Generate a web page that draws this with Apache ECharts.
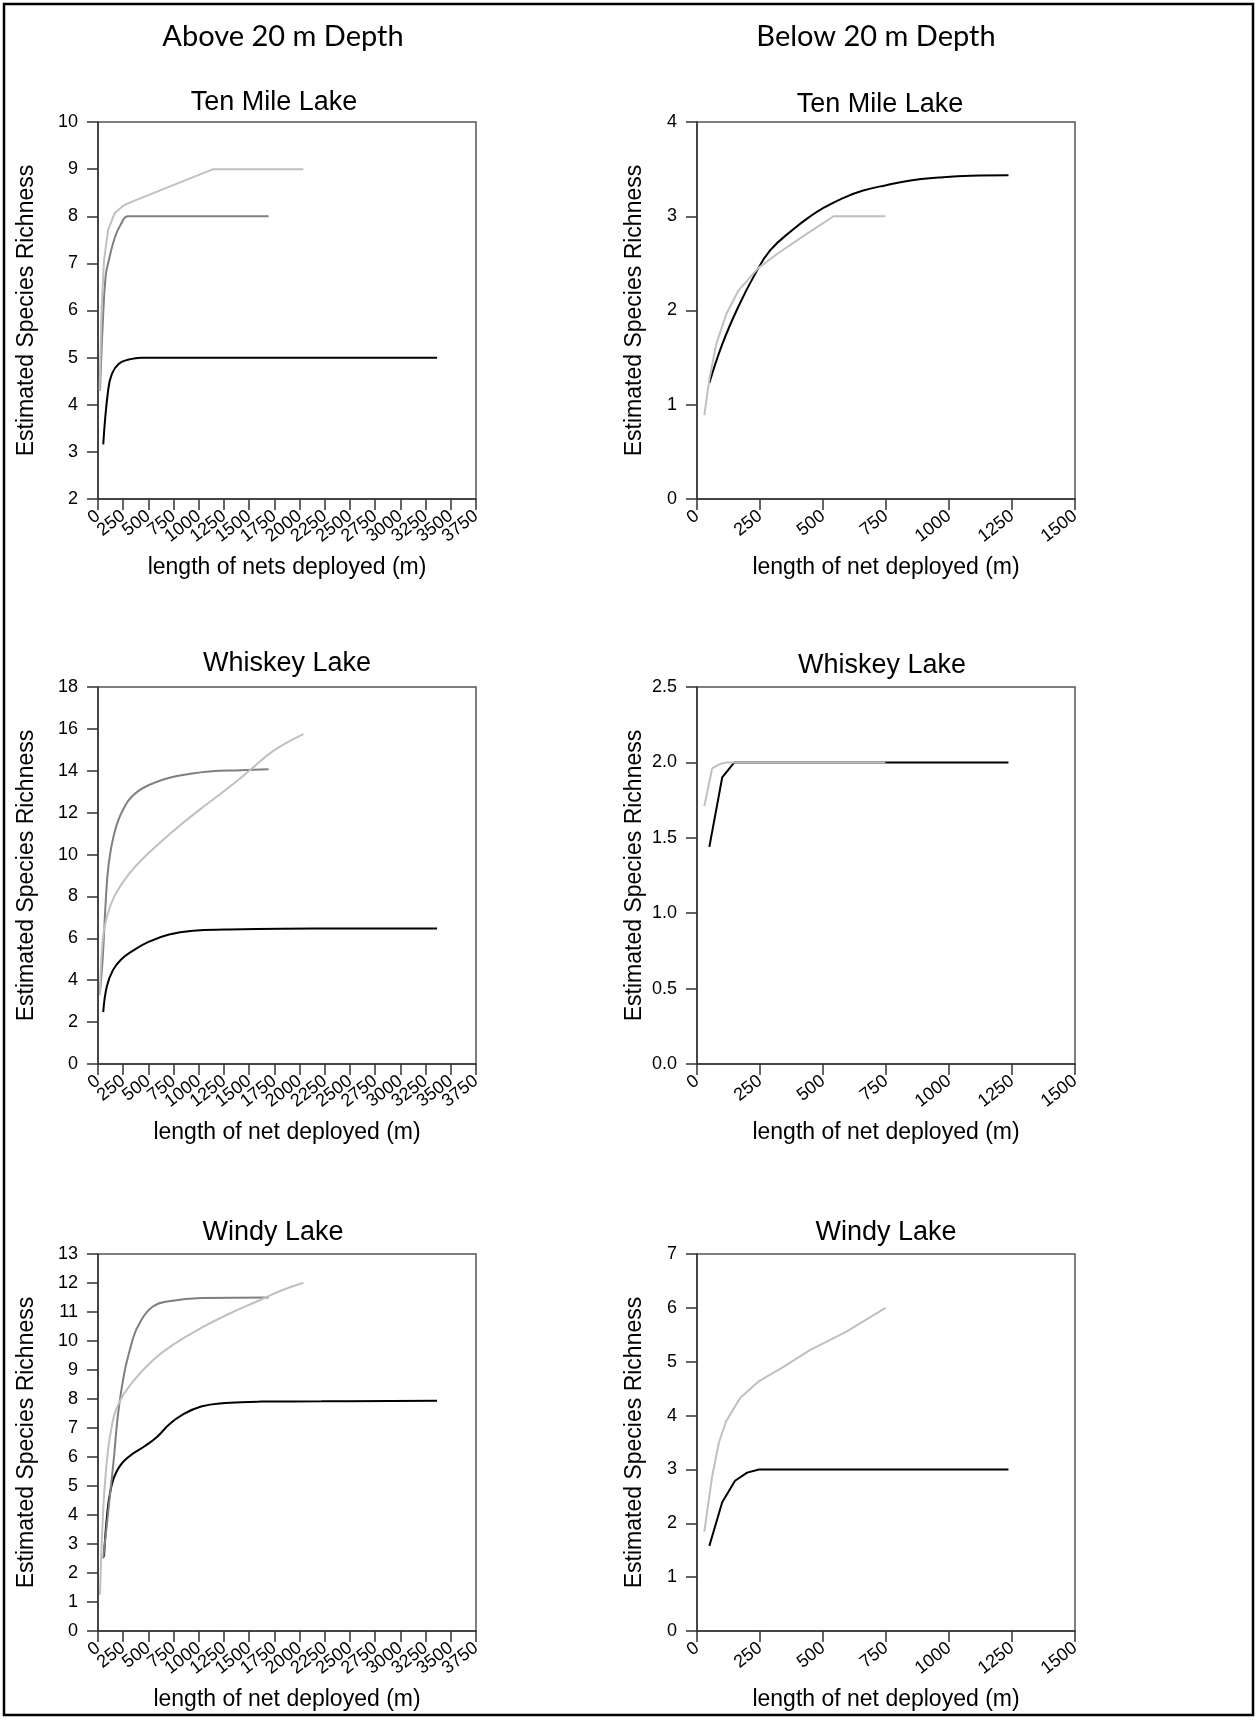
<!DOCTYPE html>
<html>
<head>
<meta charset="utf-8">
<title>Estimated Species Richness vs. Net Length</title>
<script src="https://cdn.jsdelivr.net/npm/echarts@6/dist/echarts.min.js"></script>
<style>
  html, body { margin: 0; padding: 0; background: #ffffff; }
  #chart { width: 1257px; height: 1721px; }
</style>
</head>
<body>
<div id="chart"></div>
<script>
// ---- Rarefaction curves: [net length (m), estimated species richness] ----

// Ten Mile Lake, above 20 m
const tenMileAboveBlack = [[52, 3.16], [100, 4.30], [139, 4.66], [207, 4.87], [306, 4.96], [426, 5.0], [800, 5.0], [1600, 5.0], [2500, 5.0], [3364, 5.0]];
const tenMileAboveDark  = [[20, 4.3], [48, 5.76], [76, 6.73], [107, 7.06], [167, 7.55], [227, 7.83], [299, 8.0], [800, 8.0], [1692, 8.0]];
const tenMileAboveLight = [[16, 4.3], [36, 6.08], [60, 7.06], [100, 7.71], [167, 8.07], [247, 8.22], [326, 8.30], [1143, 9.0], [2038, 9.0]];

// Ten Mile Lake, below 20 m
const tenMileBelowBlack = [[49, 1.23], [100, 1.64], [164, 2.04], [227, 2.37], [291, 2.64], [386, 2.87], [450, 3.00], [497, 3.08], [577, 3.19], [656, 3.27], [751, 3.33], [847, 3.38], [958, 3.41], [1085, 3.43], [1236, 3.435]];
const tenMileBelowLight = [[29, 0.89], [49, 1.27], [76, 1.64], [116, 1.96], [164, 2.21], [243, 2.45], [323, 2.61], [434, 2.81], [542, 3.0], [748, 3.0]];

// Whiskey Lake, above 20 m
const whiskeyAboveBlack = [[52, 2.48], [88, 3.71], [147, 4.47], [227, 4.98], [346, 5.41], [506, 5.84], [705, 6.18], [943, 6.36], [1262, 6.42], [1819, 6.46], [3364, 6.47]];
const whiskeyAboveDark  = [[20, 3.45], [48, 5.15], [76, 7.71], [107, 9.58], [167, 11.11], [247, 12.13], [366, 12.9], [545, 13.4], [784, 13.75], [1103, 13.97], [1421, 14.03], [1692, 14.07]];
const whiskeyAboveLight = [[20, 3.28], [48, 6.0], [88, 7.03], [167, 8.05], [306, 9.07], [506, 10.09], [744, 11.11], [983, 12.05], [1262, 13.07], [1501, 14.0], [1740, 14.95], [2038, 15.75]];

// Whiskey Lake, below 20 m
const whiskeyBelowBlack = [[49, 1.44], [100, 1.90], [148, 2.0], [1236, 2.0]];
const whiskeyBelowLight = [[29, 1.71], [60, 1.96], [92, 1.99], [116, 2.0], [748, 2.0]];

// Windy Lake, above 20 m
const windyAboveBlack = [[60, 2.56], [88, 3.92], [127, 4.9], [187, 5.52], [306, 6.01], [466, 6.38], [585, 6.69], [705, 7.12], [824, 7.43], [1023, 7.74], [1262, 7.86], [1620, 7.91], [2217, 7.92], [3364, 7.94]];
const windyAboveDark  = [[52, 2.5], [147, 5.6], [227, 8.2], [346, 10.08], [426, 10.70], [545, 11.19], [705, 11.37], [1023, 11.48], [1692, 11.5]];
const windyAboveLight = [[20, 1.25], [48, 3.92], [76, 5.40], [127, 6.88], [207, 7.86], [346, 8.60], [545, 9.34], [784, 9.96], [1023, 10.45], [1302, 10.94], [1581, 11.37], [1819, 11.74], [2038, 12.01]];

// Windy Lake, below 20 m
const windyBelowBlack = [[49, 1.58], [100, 2.39], [151, 2.79], [199, 2.94], [246, 3.0], [1236, 3.0]];
const windyBelowLight = [[29, 1.84], [60, 2.87], [87, 3.5], [116, 3.9], [172, 4.33], [243, 4.63], [338, 4.89], [450, 5.22], [593, 5.56], [748, 6.0]];

// Axis ranges [min, max, interval]
const xRangeAbove = [0, 3750, 250];
const xRangeBelow = [0, 1500, 250];
const yTenMileAbove = [2, 10, 1];
const yTenMileBelow = [0, 4, 1];
const yWhiskeyAbove = [0, 18, 2];
const yWhiskeyBelow = [0, 2.5, 0.5];
const yWindyAbove = [0, 13, 1];
const yWindyBelow = [0, 7, 1];

// x tick labels (every tick is labelled, even where they crowd)
const xTicksAbove = ['0', '250', '500', '750', '1000', '1250', '1500', '1750', '2000', '2250', '2500', '2750', '3000', '3250', '3500', '3750'];
const xTicksBelow = ['0', '250', '500', '750', '1000', '1250', '1500'];

// Text
const columnHeaders = ['Above 20 m Depth', 'Below 20 m Depth'];
const lakeNames = ['Ten Mile Lake', 'Whiskey Lake', 'Windy Lake'];
const yAxisTitle = 'Estimated Species Richness';
const xAxisTitleFirst = 'length of nets deployed (m)';
const xAxisTitle = 'length of net deployed (m)';

// ---- Layout ----
const COL_LEFT = [98, 697];
const ROW_TOP = [122, 687, 1254];
const GRID_W = 378, GRID_H = 377;
const COLORS = { black: '#000000', dark: '#7f7f7f', light: '#c0c0c0' };
const TXT = '#000000';
const SANS = '"Liberation Sans", Arial, sans-serif';

const panels = [
  { row: 0, col: 0, x: xRangeAbove, ticks: xTicksAbove, y: yTenMileAbove, xName: xAxisTitleFirst,
    lines: [[tenMileAboveBlack, 'black', true], [tenMileAboveDark, 'dark', true], [tenMileAboveLight, 'light', false]] },
  { row: 0, col: 1, x: xRangeBelow, ticks: xTicksBelow, y: yTenMileBelow, xName: xAxisTitle,
    lines: [[tenMileBelowBlack, 'black', true], [tenMileBelowLight, 'light', false]] },
  { row: 1, col: 0, x: xRangeAbove, ticks: xTicksAbove, y: yWhiskeyAbove, xName: xAxisTitle,
    lines: [[whiskeyAboveBlack, 'black', true], [whiskeyAboveDark, 'dark', true], [whiskeyAboveLight, 'light', true]] },
  { row: 1, col: 1, x: xRangeBelow, ticks: xTicksBelow, y: yWhiskeyBelow, xName: xAxisTitle, decimals: 1,
    lines: [[whiskeyBelowBlack, 'black', false], [whiskeyBelowLight, 'light', false]] },
  { row: 2, col: 0, x: xRangeAbove, ticks: xTicksAbove, y: yWindyAbove, xName: xAxisTitle,
    lines: [[windyAboveBlack, 'black', true], [windyAboveDark, 'dark', true], [windyAboveLight, 'light', true]] },
  { row: 2, col: 1, x: xRangeBelow, ticks: xTicksBelow, y: yWindyBelow, xName: xAxisTitle,
    lines: [[windyBelowBlack, 'black', false], [windyBelowLight, 'light', false]] }
];

// title centres per panel (x, y)
const titlePos = [[274, 103], [880, 105], [287, 664], [882, 666], [273, 1233], [886, 1233]];

const grid = [], xAxis = [], yAxis = [], series = [];
const labelAxes = [];
panels.forEach((p, i) => {
  grid.push({
    left: COL_LEFT[p.col], top: ROW_TOP[p.row], width: GRID_W, height: GRID_H,
    show: true, borderColor: '#555555', borderWidth: 1.5, backgroundColor: 'transparent'
  });
  // numeric axis: scale, line, ticks and title
  xAxis.push({
    type: 'value', gridIndex: i, min: p.x[0], max: p.x[1], interval: p.x[2],
    name: p.xName, nameLocation: 'middle', nameGap: 57,
    nameTextStyle: { fontFamily: SANS, fontSize: 23, color: TXT },
    axisLine: { show: true, onZero: false, lineStyle: { color: '#333333', width: 1.5 } },
    axisTick: { show: true, inside: false, length: 11, lineStyle: { color: '#333333', width: 1.5 } },
    axisLabel: { show: false },
    splitLine: { show: false }
  });
  // companion category axis on the same grid, used only to print every tick label
  labelAxes.push({
    type: 'category', gridIndex: i, position: 'bottom', boundaryGap: false, data: p.ticks,
    axisLine: { show: false, onZero: false }, axisTick: { show: false }, splitLine: { show: false },
    axisLabel: { interval: 0, rotate: 38, margin: 15, fontFamily: SANS, fontSize: 18, color: TXT }
  });
  yAxis.push({
    type: 'value', gridIndex: i, min: p.y[0], max: p.y[1], interval: p.y[2],
    name: yAxisTitle, nameLocation: 'middle', nameRotate: 90, nameGap: p.col === 0 ? 60 : 51,
    nameTextStyle: { fontFamily: SANS, fontSize: 23, color: TXT },
    axisLine: { show: true, onZero: false, lineStyle: { color: '#333333', width: 1.5 } },
    axisTick: { show: true, inside: false, length: 11, lineStyle: { color: '#333333', width: 1.5 } },
    axisLabel: {
      margin: 20, fontFamily: SANS, fontSize: 18, color: TXT,
      showMinLabel: true, showMaxLabel: true,
      formatter: p.decimals ? (v => v.toFixed(p.decimals)) : (v => String(v))
    },
    splitLine: { show: false }
  });
  p.lines.forEach(([data, tone, smooth]) => {
    series.push({
      type: 'line', xAxisIndex: i, yAxisIndex: i, data: data,
      showSymbol: false, symbol: 'none', smooth: smooth ? 0.45 : false,
      lineStyle: { color: COLORS[tone], width: 2 }, silent: true, animation: false
    });
  });
});
xAxis.push(...labelAxes);

const graphic = [
  { type: 'rect', shape: { x: 4, y: 4, width: 1249, height: 1711 },
    style: { fill: 'none', stroke: '#000000', lineWidth: 2.5 }, silent: true },
  { type: 'text', x: 283, y: 37, style: { text: columnHeaders[0], fontFamily: 'Lato, "Open Sans", sans-serif', fontSize: 29, fill: TXT, align: 'center', verticalAlign: 'middle' } },
  { type: 'text', x: 876, y: 37, style: { text: columnHeaders[1], fontFamily: 'Lato, "Open Sans", sans-serif', fontSize: 29, fill: TXT, align: 'center', verticalAlign: 'middle' } }
];
panels.forEach((p, i) => {
  graphic.push({ type: 'text', x: titlePos[i][0], y: titlePos[i][1],
    style: { text: lakeNames[p.row], fontFamily: SANS, fontSize: 27, fill: TXT, align: 'center', verticalAlign: 'middle' } });
});

const chart = echarts.init(document.getElementById('chart'), null, { renderer: 'canvas', width: 1257, height: 1721 });
chart.setOption({
  backgroundColor: '#ffffff',
  animation: false,
  grid, xAxis, yAxis, series, graphic
});
</script>
</body>
</html>
